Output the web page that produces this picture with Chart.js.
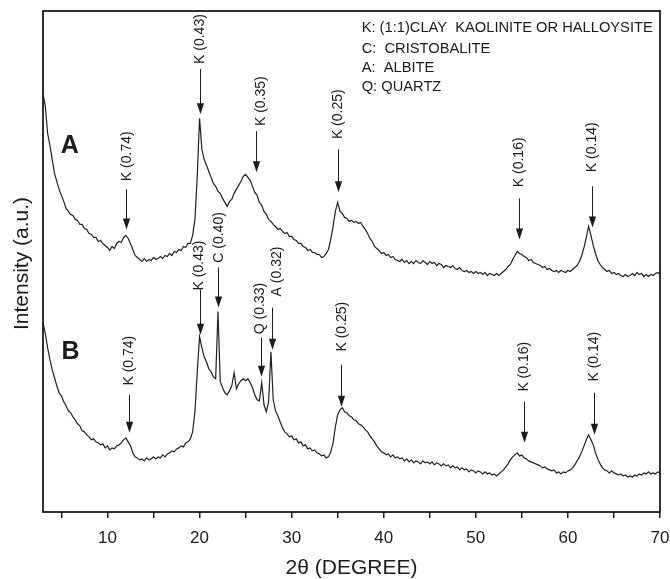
<!DOCTYPE html>
<html>
<head>
<meta charset="utf-8">
<script src="https://cdn.jsdelivr.net/npm/chart.js@4.4.1/dist/chart.umd.min.js"></script>
<style>
  html, body { margin: 0; padding: 0; background: #fff; }
  #xrd { display: block; }
</style>
</head>
<body>
<canvas id="xrd" width="670" height="579"></canvas>
<script>
var fontFamily = '"Liberation Sans", Arial, Helvetica, sans-serif';
var ink = '#1b1b1b';

// scan grid: 3..70 deg 2-theta, 0.25 deg step
var scanStart = 3;
var scanStep = 0.25;

// intensity (a.u.), one row = 5 degrees
var patternA = [
  417,405,378,366,352,338,330,322,316,310,303,300,297,296,292,291,287,287,283,282,
  278,277,274,274,270,271,268,266,264,261,265,263,268,270,269,274,276,273,268,262,
  256,254,252,250,253,250,252,251,254,252,253,255,253,256,255,258,256,260,259,262,
  261,265,264,268,268,276,292,335,393,362,352,346,340,334,328,325,320,318,313,309,
  305,310,312,318,322,326,330,335,337,334,331,325,319,316,309,306,300,297,292,290,
  287,285,282,283,280,278,279,275,275,272,271,268,268,265,264,261,262,259,259,257,
  257,254,255,258,262,272,285,300,309,300,298,294,293,290,291,289,290,288,289,285,
  282,278,273,270,265,263,261,258,259,256,257,254,255,252,251,250,252,249,251,248,
  250,248,251,249,248,251,249,247,250,248,249,246,248,247,244,246,245,244,246,243,
  242,244,241,240,241,239,240,238,240,238,239,237,239,236,238,237,236,238,236,238,
  240,242,245,247,252,256,260,258,257,255,254,251,252,249,248,247,246,244,245,242,
  243,241,240,241,239,241,240,239,241,240,242,244,246,250,256,264,274,285,276,266,
  258,251,247,244,242,240,241,238,239,237,238,236,235,237,235,236,238,236,239,237,
  238,235,237,235,237,236,238,239,237
];

var patternB = [
  189,178,164,152,142,134,126,119,116,110,106,101,99,95,92,88,86,81,80,77,
  75,72,73,70,69,67,68,64,66,62,64,63,66,67,69,72,74,70,66,59,
  55,54,52,53,51,54,52,53,55,53,55,54,57,55,58,59,61,60,63,64,
  66,65,69,70,73,80,100,140,175,164,155,150,143,140,135,133,200,130,124,119,
  117,121,126,139,123,128,131,133,131,133,129,124,117,112,111,129,107,100,110,160,
  112,101,96,90,84,80,78,75,76,72,73,69,70,66,67,63,64,61,62,59,
  58,56,57,54,55,60,69,85,97,102,104,100,99,96,95,92,91,88,87,85,
  82,80,76,73,70,66,63,60,59,57,58,55,57,54,55,53,54,51,53,50,
  52,49,51,50,48,51,49,50,48,50,47,49,48,46,48,46,47,44,46,44,
  45,42,44,42,43,40,42,41,39,41,40,38,40,38,39,37,38,36,38,40,
  42,45,48,52,55,57,59,56,57,54,53,51,50,49,48,47,46,44,45,43,
  42,41,42,39,40,38,40,39,41,42,44,47,51,55,60,66,72,77,72,67,
  59,53,48,44,42,41,39,41,39,38,37,38,36,37,35,36,35,37,36,38,
  37,39,38,40,38,39,38,40,39
];

var xTicks = [5, 10, 15, 20, 25, 30, 35, 40, 45, 50, 55, 60, 65, 70];
var xTickLabels = ['', '10', '', '20', '', '30', '', '40', '', '50', '', '60', '', '70'];

var peakNamesA = ['K (0.74)', 'K (0.43)', 'K (0.35)', 'K (0.25)', 'K (0.16)', 'K (0.14)'];
var peakThetaA = [12.0, 20.0, 26.1, 35.0, 54.7, 62.6];
var peakNamesB = ['K (0.74)', 'K (0.43)', 'C (0.40)', 'Q (0.33)', 'A (0.32)', 'K (0.25)', 'K (0.16)', 'K (0.14)'];
var peakThetaB = [12.3, 20.0, 22.0, 26.7, 27.9, 35.4, 55.2, 62.8];

var legendLines = ['K: (1:1)CLAY  KAOLINITE OR HALLOYSITE', 'C:  CRISTOBALITE', 'A:  ALBITE', 'Q: QUARTZ'];

// arrow layout in intensity units: [tip, tail, text centre, text dx px]
var arrowLayoutA = [[282, 322, 355, 1], [397, 442, 472, 0], [339, 380, 410, 5], [319, 362, 397, 0], [272, 313, 349, 0], [284, 325, 364, 0]];
var arrowLayoutB = [[79, 117, 151, 0], [177, 222, 246, -1], [204, 244, 274, 1], [135, 174, 203, -1], [162, 204, 240, 5], [105, 147, 185, 1], [69, 110, 145, 0], [77, 119, 155, 0]];

function toPoints(values) {
    return values.map(function (v, i) { return { x: scanStart + i * scanStep, y: v }; });
}

function drawArrow(ctx, x, yTail, yTip) {
    ctx.beginPath();
    ctx.moveTo(x, yTail);
    ctx.lineTo(x, yTip - 8);
    ctx.stroke();
    ctx.beginPath();
    ctx.moveTo(x - 3.6, yTip - 11);
    ctx.lineTo(x + 3.6, yTip - 11);
    ctx.lineTo(x, yTip);
    ctx.closePath();
    ctx.fill();
}

function drawPeaks(ctx, xs, ys, names, thetas, layout) {
    for (var i = 0; i < names.length; i++) {
        var x = Math.round(xs.getPixelForValue(thetas[i])) + 0.5;
        var l = layout[i];
        drawArrow(ctx, x, ys.getPixelForValue(l[1]), ys.getPixelForValue(l[0]));
        ctx.save();
        ctx.translate(x + l[3], ys.getPixelForValue(l[2]));
        ctx.rotate(-Math.PI / 2);
        ctx.textAlign = 'center';
        ctx.textBaseline = 'middle';
        ctx.fillText(names[i], 0, 0);
        ctx.restore();
    }
}

var decorPlugin = {
    id: 'decor',
    afterDraw: function (chart) {
        var ctx = chart.ctx, a = chart.chartArea;
        var xs = chart.scales.x, ys = chart.scales.y;
        ctx.save();
        ctx.strokeStyle = ink;
        ctx.fillStyle = ink;

        // frame
        ctx.lineWidth = 1.8;
        ctx.strokeRect(a.left, a.top, a.right - a.left, a.bottom - a.top);

        // y title
        ctx.save();
        ctx.font = '21px ' + fontFamily;
        ctx.translate(22, (a.top + a.bottom) / 2 + 2);
        ctx.rotate(-Math.PI / 2);
        ctx.textAlign = 'center';
        ctx.textBaseline = 'middle';
        ctx.fillText('Intensity (a.u.)', 0, 0);
        ctx.restore();

        // pattern letters
        ctx.font = 'bold 25px ' + fontFamily;
        ctx.textAlign = 'center';
        ctx.textBaseline = 'middle';
        ctx.fillText('A', xs.getPixelForValue(5.9), ys.getPixelForValue(365));
        ctx.fillText('B', xs.getPixelForValue(6.0), ys.getPixelForValue(160));

        // legend
        ctx.font = '14.7px ' + fontFamily;
        ctx.textAlign = 'left';
        var lx = xs.getPixelForValue(37.6);
        var rows = [483, 462, 443, 424];
        for (var i = 0; i < legendLines.length; i++) {
            ctx.fillText(legendLines[i], lx, ys.getPixelForValue(rows[i]));
        }

        // peak markers
        ctx.lineWidth = 1;
        ctx.font = '14px ' + fontFamily;
        drawPeaks(ctx, xs, ys, peakNamesA, peakThetaA, arrowLayoutA);
        drawPeaks(ctx, xs, ys, peakNamesB, peakThetaB, arrowLayoutB);
        ctx.restore();
    }
};

var lineStyle = { borderColor: '#202020', borderWidth: 1.2, pointRadius: 0, tension: 0, fill: false };

new Chart(document.getElementById('xrd'), {
    type: 'line',
    data: {
        datasets: [
            Object.assign({ label: 'A', data: toPoints(patternA) }, lineStyle),
            Object.assign({ label: 'B', data: toPoints(patternB) }, lineStyle)
        ]
    },
    options: {
        responsive: false,
        animation: false,
        layout: { padding: { left: 43, right: 0, top: 11, bottom: 0 } },
        plugins: { legend: { display: false }, tooltip: { enabled: false } },
        scales: {
            x: {
                type: 'linear',
                min: 3,
                max: 70,
                afterBuildTicks: function (scale) {
                    scale.ticks = xTicks.map(function (v) { return { value: v }; });
                },
                afterFit: function (scale) {
                    scale.height = 67;
                    scale.paddingLeft = 0;
                    scale.paddingRight = 10;
                },
                ticks: {
                    autoSkip: false,
                    maxRotation: 0,
                    padding: 10,
                    color: ink,
                    font: { size: 17, family: fontFamily },
                    callback: function (value, index) { return xTickLabels[index]; }
                },
                grid: { drawOnChartArea: false, drawTicks: true, tickLength: 6, color: ink, lineWidth: 1.5 },
                border: { display: false },
                title: {
                    display: true,
                    text: '2θ (DEGREE)',
                    color: ink,
                    font: { size: 21, family: fontFamily, lineHeight: 1 },
                    padding: { top: 0, bottom: 0 }
                }
            },
            y: {
                display: false,
                min: 0,
                max: 500
            }
        }
    },
    plugins: [decorPlugin]
});
</script>
</body>
</html>
